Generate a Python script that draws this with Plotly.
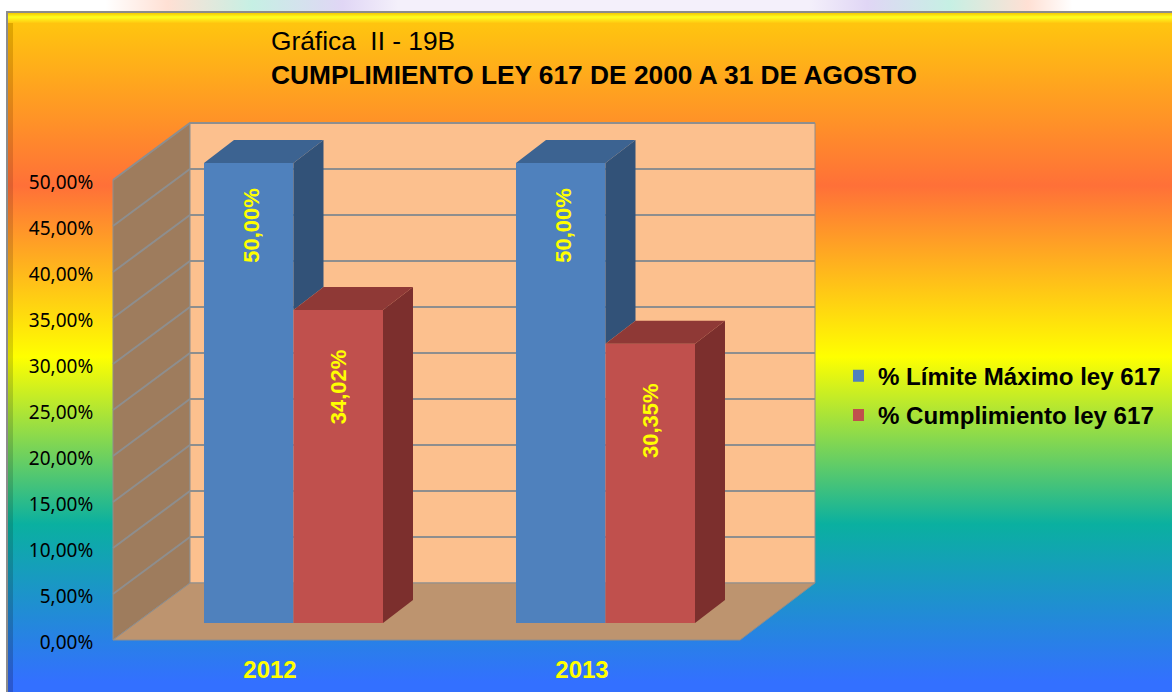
import plotly.graph_objects as go

# ---------- data ----------
years = [2012, 2013]
limite = [50.00, 50.00]
cumplimiento = [34.02, 30.35]
limite_labels = ["50,00%", "50,00%"]
cumplimiento_labels = ["34,02%", "30,35%"]
y_ticks = [0, 5, 10, 15, 20, 25, 30, 35, 40, 45, 50]
y_tick_labels = ["0,00%", "5,00%", "10,00%", "15,00%", "20,00%", "25,00%",
                 "30,00%", "35,00%", "40,00%", "45,00%", "50,00%"]
series_names = ["% Límite Máximo ley 617", "% Cumplimiento ley 617"]
title_1 = "Gráfica\u00a0 II - 19B"
title_2 = "CUMPLIMIENTO LEY 617 DE 2000 A 31 DE AGOSTO"

# ---------- layout scale ----------
W, H = 1172, 692
PX_PER_YEAR = 312.0
PX_PER_UNIT = 9.2
X0_PX, Y0_PX = 270.0, 640.0


def X(px):
    return years[0] + (px - X0_PX) / PX_PER_YEAR


def Y(py):
    return (Y0_PX - py) / PX_PER_UNIT


x_range = [X(0), X(W)]
y_range = [Y(H), Y(0)]

# 3D geometry in data units
wall_dx, wall_dy = 77 / PX_PER_YEAR, 57 / PX_PER_UNIT
floor_l, floor_r = X(113), X(740)
bar_dx, bar_dy = 30 / PX_PER_YEAR, 23 / PX_PER_UNIT
bar_w = 89.5 / PX_PER_YEAR
bar_base = 17 / PX_PER_UNIT
cluster_shift = 23.5 / PX_PER_YEAR

C_BLUE = ("#4F81BD", "#3C6391", "#325278")
C_RED = ("#C0504D", "#8F3936", "#7C2F2D")
EDGE = "#8E8E8E"

fig = go.Figure()


def poly(xs, ys, color, line=None, axes=("x", "y"), width=1):
    fig.add_trace(go.Scatter(
        x=list(xs) + [xs[0]], y=list(ys) + [ys[0]], mode="lines", fill="toself",
        fillcolor=color, line=dict(color=line or color, width=width if line else 0),
        hoverinfo="skip", showlegend=False, xaxis=axes[0], yaxis=axes[1]))


def grad(x0, x1, y0, y1, kind, stops, start, stop):
    fig.add_trace(go.Scatter(
        x=[X(x0), X(x1), X(x1), X(x0), X(x0)], y=[Y(y0), Y(y0), Y(y1), Y(y1), Y(y0)],
        mode="lines", line=dict(width=0), fill="toself", hoverinfo="skip", showlegend=False,
        fillgradient=dict(type=kind, colorscale=stops, start=start, stop=stop)))


# top strip, behind the chart frame
grad(0, W, 0, 12, "horizontal",
     [[0, "#FFFFFF"], [0.09, "#FFFFFF"], [0.143, "#FFE0D4"], [0.215, "#C6F0E4"], [0.292, "#E0D6F5"],
      [0.34, "#F4F0FB"], [0.69, "#F4F0FB"], [0.74, "#E0D6F5"], [0.81, "#C6F0E4"], [0.877, "#FFE0D4"],
      [0.915, "#FFFFFF"], [1, "#FFFFFF"]], X(0), X(W))

# frame and rainbow background
poly([X(6), X(W), X(W), X(6)], [Y(11), Y(11), Y(H), Y(H)], "#8C8C8C")
grad(8, W, 13, H, "vertical",
     [[0, "#FFC40F"], [0.245, "#FF7038"], [0.505, "#FFFF00"], [0.76, "#0AB0A0"], [1, "#3370FF"]],
     Y(25), Y(682))
grad(8, W, 13, 23, "vertical",
     [[0, "#F5C800"], [0.4, "#FFFF20"], [1, "#FFC810"]], Y(13), Y(23))
grad(8, 13, 23, H, "vertical",
     [[0, "#E0A800"], [0.245, "#E06030"], [0.505, "#D8D800"], [0.76, "#089888"], [1, "#2A58D0"]],
     Y(25), Y(682))

# walls and floor
back_l, back_r = floor_l + wall_dx, floor_r + wall_dx - 2 / PX_PER_YEAR
poly([floor_l, back_l, back_l, floor_l], [0, wall_dy, 50 + wall_dy, 50], "#9E7C5D", EDGE)
poly([back_l, back_r, back_r, back_l], [wall_dy, wall_dy, 50 + wall_dy, 50 + wall_dy], "#FCC08E", EDGE)
poly([floor_l, floor_r, back_r, back_l], [0, 0, wall_dy, wall_dy], "#BD946F", EDGE)
for v in y_ticks[1:]:
    fig.add_trace(go.Scatter(
        x=[floor_l, back_l, back_r], y=[v, v + wall_dy, v + wall_dy], mode="lines",
        line=dict(color=EDGE, width=2), hoverinfo="skip", showlegend=False))

# bar fronts (drawn on the overlay axes)
for name, vals, off, col in zip(series_names, (limite, cumplimiento), (-bar_w, 0.0), (C_BLUE, C_RED)):
    fig.add_trace(go.Bar(
        x=years, y=vals, base=[bar_base] * 2, width=[bar_w] * 2,
        offset=[cluster_shift + off] * 2, name=name, legendgroup=name,
        marker=dict(color=col[0], line=dict(width=0)), hoverinfo="skip",
        xaxis="x2", yaxis="y2"))

# bar top and side faces
ax2 = ("x2", "y2")
for i, yr in enumerate(years):
    for j, (vals, col) in enumerate(((limite, C_BLUE), (cumplimiento, C_RED))):
        l = yr + cluster_shift + (j - 1) * bar_w
        r = l + bar_w
        t = bar_base + vals[i]
        # the part of a side face that stays visible ends at the next bar's top edge
        b = bar_base + cumplimiento[i] if j == 0 else bar_base
        poly([r, r + bar_dx, r + bar_dx, r], [t, t + bar_dy, b + bar_dy, b], col[2], axes=ax2)
        poly([l, r, r + bar_dx, l + bar_dx], [t, t, t + bar_dy, t + bar_dy], col[1], axes=ax2)

# data labels
annotations = []
for i, yr in enumerate(years):
    for j, (vals, labs, drop, nudge) in enumerate(((limite, limite_labels, 62 / PX_PER_UNIT, 2 / PX_PER_YEAR),
                                                   (cumplimiento, cumplimiento_labels, 76.5 / PX_PER_UNIT, 0.5 / PX_PER_YEAR))):
        annotations.append(dict(
            x=yr + cluster_shift + (j - 0.5) * bar_w + nudge, y=bar_base + vals[i] - drop,
            xref="x2", yref="y2", text=f"<b>{labs[i]}</b>", textangle=-90, showarrow=False,
            font=dict(family="Liberation Sans", size=22, color="#FFFF00")))

fig.update_layout(
    width=W, height=H, margin=dict(l=0, r=0, t=0, b=0),
    paper_bgcolor="white", plot_bgcolor="rgba(0,0,0,0)", barmode="overlay",
    showlegend=True, annotations=annotations,
    title=dict(
        text=f"{title_1}<br><b>{title_2}</b>", x=271 / W, xanchor="left", xref="paper",
        y=1 - 50 / H, yanchor="top", yref="container",
        font=dict(family="Liberation Sans", size=26.3, color="#000000")),
    legend=dict(
        x=853 / W, y=(H - 376) / H + 0.0325, xanchor="left", yanchor="top", bgcolor="rgba(0,0,0,0)",
        font=dict(family="Liberation Sans", size=24.1, color="#000000", weight="bold"),
        tracegroupgap=5, indentation=-15, itemclick=False, itemdoubleclick=False),
    xaxis=dict(domain=[0, 1], range=x_range, visible=False, fixedrange=True),
    yaxis=dict(domain=[0, 1], range=y_range, visible=False, fixedrange=True),
    xaxis2=dict(overlaying="x", range=x_range, anchor="free", position=(H - 653) / H, side="bottom",
                tickmode="array", tickvals=years, ticktext=[f"<b>{y}</b>" for y in years],
                ticklen=0, showline=False, showgrid=False, zeroline=False, fixedrange=True,
                tickfont=dict(family="Liberation Sans", size=24, color="#FFFF00")),
    yaxis2=dict(overlaying="y", range=y_range, anchor="free", position=113 / W, side="left",
                tickmode="array", tickvals=y_ticks, ticktext=y_tick_labels, ticks="outside", ticklen=16,
                tickcolor="rgba(0,0,0,0)", showline=False, showgrid=False, zeroline=False, ticklabelshift=2,
                fixedrange=True, tickfont=dict(family="Noto Sans", size=19, color="#000000")),
)

fig.write_html("out.html", config=dict(displayModeBar=False),
               post_script="document.body.style.margin='0';document.body.style.overflow='hidden';")
